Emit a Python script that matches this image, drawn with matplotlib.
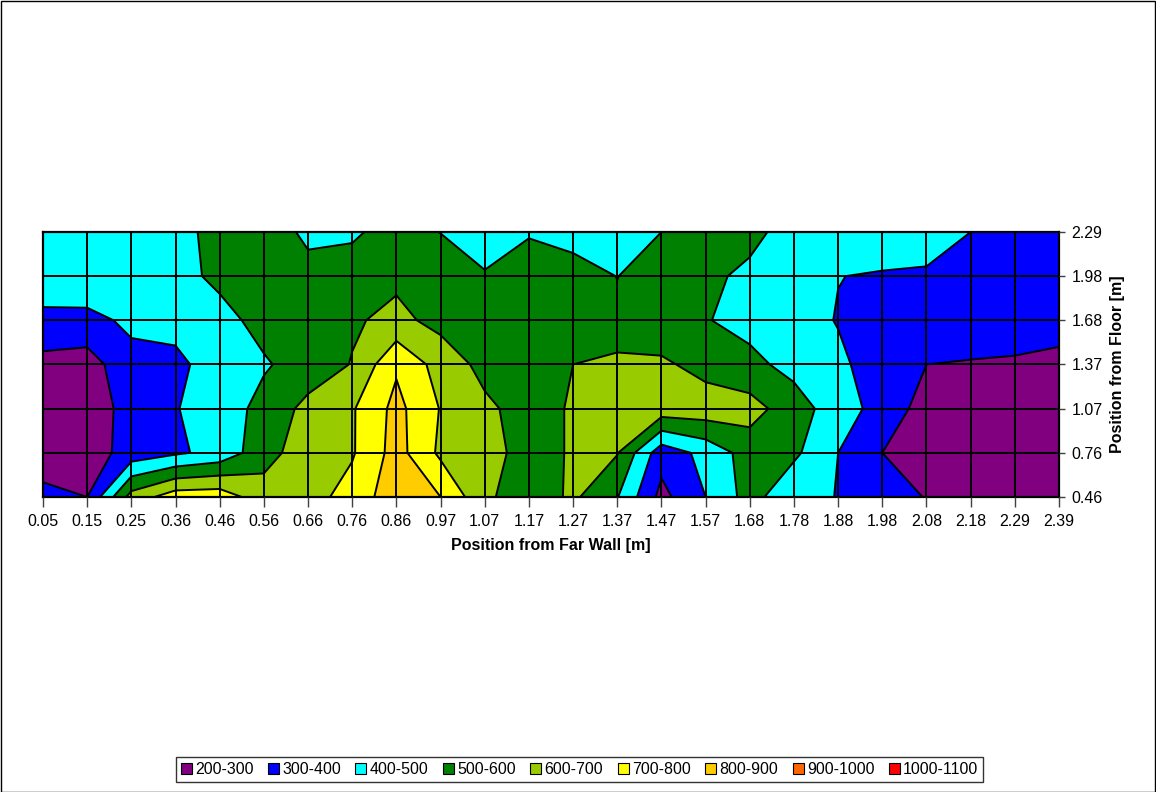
import matplotlib
matplotlib.use("Agg")
import matplotlib.pyplot as plt
import numpy as np
from matplotlib.patches import Patch, Rectangle

plt.rcParams['font.family'] = ['Liberation Sans', 'DejaVu Sans']

# Measurement positions (category axes)
wall_pos = ["0.05", "0.15", "0.25", "0.36", "0.46", "0.56", "0.66", "0.76", "0.86", "0.97",
            "1.07", "1.17", "1.27", "1.37", "1.47", "1.57", "1.68", "1.78", "1.88", "1.98",
            "2.08", "2.18", "2.29", "2.39"]
floor_pos = ["0.46", "0.76", "1.07", "1.37", "1.68", "1.98", "2.29"]

# Illuminance readings, one list per height above the floor
lux_046 = [320, 300, 640, 755, 760, 640, 660, 740, 860, 800, 620, 540, 618, 505, 270, 400,
           540, 420, 398, 350, 295, 260, 260, 260]
lux_076 = [260, 250, 340, 385, 430, 565, 650, 690, 840, 680, 640, 560, 610, 605, 340, 430,
           545, 520, 400, 300, 260, 250, 250, 250]
lux_107 = [270, 255, 330, 395, 450, 530, 630, 690, 830, 695, 620, 560, 610, 650, 660, 660,
           640, 545, 450, 360, 260, 250, 250, 250]
lux_137 = [270, 255, 370, 385, 430, 490, 540, 605, 785, 660, 570, 560, 600, 630, 620, 560,
           525, 470, 420, 350, 300, 295, 290, 280]
lux_168 = [370, 370, 420, 420, 470, 530, 570, 588, 626, 570, 570, 560, 560, 520, 520, 505,
           470, 440, 395, 370, 350, 340, 340, 330]
lux_198 = [470, 475, 480, 470, 520, 570, 545, 545, 580, 560, 510, 560, 555, 498, 560, 530,
           470, 450, 402, 390, 380, 360, 350, 350]
lux_229 = [480, 490, 490, 480, 520, 580, 470, 485, 540, 498, 440, 490, 450, 440, 500, 550,
           540, 440, 450, 470, 470, 400, 360, 350]

levels = [200, 300, 400, 500, 600, 700, 800, 900, 1000, 1100]
band_labels = ["200-300", "300-400", "400-500", "500-600", "600-700",
               "700-800", "800-900", "900-1000", "1000-1100"]
band_colors = ["#800080", "#0000FF", "#00FFFF", "#008000", "#99CC00",
               "#FFFF00", "#FFCC00", "#FF6600", "#FF0000"]

z = np.array([lux_046, lux_076, lux_107, lux_137, lux_168, lux_198, lux_229], dtype=float)
xi = np.arange(len(wall_pos))
yi = np.arange(len(floor_pos))

W, H = 1156, 792
fig = plt.figure(figsize=(W / 100, H / 100), dpi=100)
fig.patch.set_facecolor("white")

ax = fig.add_axes([43 / W, 1 - 497 / H, (1059 - 43) / W, (497 - 232) / H])
ax.contourf(xi, yi, z, levels=levels, colors=band_colors)
ax.contour(xi, yi, z, levels=levels, colors="black", linewidths=1.4)
ax.set_xlim(xi[0], xi[-1])
ax.set_ylim(yi[0], yi[-1])

ax.set_xticks(xi)
ax.set_xticklabels(wall_pos)
ax.set_yticks(yi)
ax.set_yticklabels(floor_pos)
ax.yaxis.tick_right()
ax.yaxis.set_label_position("right")
ax.grid(True, color="black", linewidth=1.4)
ax.set_axisbelow(False)
ax.tick_params(axis="x", direction="out", length=7, width=1, colors="#404040",
               labelcolor="black", labelsize=11.5, pad=5)
ax.tick_params(axis="y", direction="out", length=4.5, width=1, colors="#404040",
               labelcolor="black", labelsize=11.5, pad=4.5)
for s in ax.spines.values():
    s.set_linewidth(1.6)
    s.set_color("black")

ax.set_xlabel("Position from Far Wall [m]", fontweight="bold", fontsize=11.5, labelpad=7)
ax.set_ylabel("Position from Floor [m]", fontweight="bold", fontsize=11.5, labelpad=5)

handles = [Patch(facecolor=c, edgecolor="black", linewidth=0.8) for c in band_colors]
leg = fig.legend(handles, band_labels, loc="center",
                 bbox_to_anchor=(579.5 / W, 1 - 769.5 / H), ncol=9, frameon=True,
                 fancybox=False, edgecolor="black", fontsize=11.5,
                 handlelength=0.7, handleheight=0.7, handletextpad=0.2,
                 columnspacing=0.9, borderpad=0.3, borderaxespad=0)
leg.get_frame().set_linewidth(1.0)

fig.patches.append(Rectangle((0.5 / W, 0.5 / H), 1 - 1.5 / W, 1 - 1.5 / H,
                             transform=fig.transFigure, fill=False,
                             edgecolor="black", linewidth=1.0))

fig.savefig("out.png", dpi=100)
